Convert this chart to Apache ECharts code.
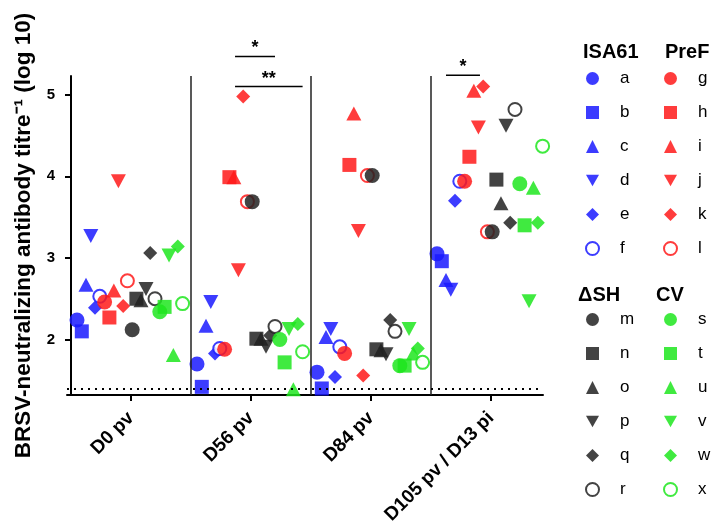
<!DOCTYPE html>
<html>
<head>
<meta charset="utf-8">
<script src="https://cdn.jsdelivr.net/npm/echarts@6/dist/echarts.min.js"></script>
<style>
html, body { margin: 0; padding: 0; background: #fff; }
#main { width: 713px; height: 527px; }
</style>
</head>
<body>
<div id="main"></div>
<script>
var categories = ['D0 pv', 'D56 pv', 'D84 pv', 'D105 pv / D13 pi'];
var animals = ['a','b','c','d','e','f','g','h','i','j','k','l','m','n','o','p','q','r','s','t','u','v','w','x'];
// horizontal place of each animal inside a time point column (0..1)
var jitter = [0.05, 0.09, 0.125, 0.165, 0.2, 0.24, 0.28, 0.32, 0.357, 0.395, 0.435, 0.47,
              0.51, 0.545, 0.583, 0.625, 0.66, 0.70, 0.74, 0.78, 0.853, 0.817, 0.89, 0.93];

// log10 titres per animal: D0, D56, D84, D105
var isa61 = [
  [2.24, 1.70, 1.60, 3.05],
  [2.10, 1.42, 1.40, 2.96],
  [2.67, 2.17, 2.03, 2.73],
  [3.27, 2.46, 2.13, 2.61],
  [2.39, 1.83, 1.54, 3.70],
  [2.53, 1.89, 1.91, 3.94]
];
var pref = [
  [2.46, 1.88, 1.83, 3.94],
  [2.27, 3.99, 4.14, 4.24],
  [2.60, 3.99, 4.77, 5.05],
  [3.94, 2.85, 3.33, 4.60],
  [2.41, 4.98, 1.56, 5.10],
  [2.72, 3.69, 4.01, 3.32]
];
var deltaSH = [
  [2.12, 3.69, 4.01, 3.32],
  [2.50, 2.01, 1.88, 3.96],
  [2.48, 2.01, 1.87, 3.67],
  [2.62, 1.91, 1.82, 4.62],
  [3.06, 2.05, 2.24, 3.43],
  [2.50, 2.16, 2.10, 4.82]
];
var cv = [
  [2.34, 2.00, 1.68, 3.91],
  [2.40, 1.72, 1.68, 3.40],
  [1.81, 1.39, 1.83, 3.86],
  [3.03, 2.13, 2.13, 2.47],
  [3.14, 2.19, 1.89, 3.43],
  [2.44, 1.85, 1.72, 4.37]
];
var yTicks = [2, 3, 4, 5];
var catTicks = [0.5, 1.5, 2.5, 3.5];
var detectionLimit = 1.4;
var sigBars = [
  { from: 1.367, to: 1.70, y: 5.47, text: '*' },
  { from: 1.367, to: 1.93, y: 5.10, text: '**' },
  { from: 3.125, to: 3.408, y: 5.24, text: '*' }
];

var FONT = 'Liberation Sans, Arial, sans-serif';
var groups = [
  { name: 'ISA61', color: '#1a1aff', values: isa61, left: 585, top: 70, hx: 583, hy: 52 },
  { name: 'PreF', color: '#ff1a1a', values: pref, left: 663, top: 70, hx: 665, hy: 52 },
  { name: '\u0394SH', color: '#222222', values: deltaSH, left: 585, top: 311, hx: 578, hy: 295 },
  { name: 'CV', color: '#1fe61f', values: cv, left: 663, top: 311, hx: 656, hy: 295 }
];
var downTri = 'path://M0,0L10,0L5,9Z';
var shapes = [
  { symbol: 'circle', size: 15 },
  { symbol: 'rect', size: 14 },
  { symbol: 'triangle', size: [15, 14] },
  { symbol: downTri, size: [15, 14] },
  { symbol: 'diamond', size: 14 },
  { symbol: 'emptyCircle', size: 13 }
];

var series = [];
var legends = [];
groups.forEach(function (g, gi) {
  var names = [];
  g.values.forEach(function (vals, si) {
    var idx = gi * 6 + si;
    var sh = shapes[si];
    names.push(animals[idx]);
    series.push({
      name: animals[idx],
      type: 'scatter',
      symbol: sh.symbol,
      symbolSize: sh.size,
      itemStyle: {
        color: g.color,
        opacity: 0.85,
        borderWidth: sh.symbol === 'emptyCircle' ? 2 : 0
      },
      emphasis: { disabled: true },
      data: vals.map(function (v, ci) { return [ci + jitter[idx], v]; })
    });
  });
  legends.push({
    orient: 'vertical',
    left: g.left,
    top: g.top,
    padding: 0,
    itemWidth: 13,
    itemHeight: 13,
    itemGap: 17,
    selectedMode: false,
    data: names,
    textStyle: { fontSize: 17, color: '#000', fontFamily: FONT, lineHeight: 13, padding: [0, 0, 0, 16] }
  });
});

// separators and detection limit
series.push({
  type: 'scatter',
  data: [],
  silent: true,
  markLine: {
    silent: true,
    symbol: 'none',
    label: { show: false },
    emphasis: { disabled: true },
    data: [
      { xAxis: 1, lineStyle: { color: '#222', width: 1.5, type: 'solid' } },
      { xAxis: 2, lineStyle: { color: '#222', width: 1.5, type: 'solid' } },
      { xAxis: 3, lineStyle: { color: '#222', width: 1.5, type: 'solid' } },
      { yAxis: detectionLimit, lineStyle: { color: '#000', width: 2, type: [2, 5] } }
    ]
  }
});

var chart = echarts.init(document.getElementById('main'));
chart.setOption({
  animation: false,
  textStyle: { fontFamily: FONT },
  grid: { left: 67, right: 170, top: 76, bottom: 132 },
  legend: legends,
  xAxis: {
    type: 'value',
    min: -0.0333,
    max: 3.9333,
    splitLine: { show: false },
    axisLine: { lineStyle: { color: '#000', width: 2 } },
    axisTick: { customValues: catTicks, length: 6, lineStyle: { color: '#000', width: 2 } },
    axisLabel: {
      customValues: catTicks,
      rotate: 45,
      margin: 20,
      fontSize: 19,
      fontWeight: 'bold',
      color: '#000',
      formatter: function (v) { return categories[Math.floor(v)]; }
    }
  },
  yAxis: {
    type: 'value',
    min: 1.32,
    max: 5.23,
    name: 'BRSV-neutralizing antibody titre\u207B\u00B9 (log 10)',
    nameLocation: 'middle',
    nameGap: 25,
    nameTextStyle: { fontSize: 22.5, fontWeight: 'bold', color: '#000' },
    splitLine: { show: false },
    axisLine: { show: true, lineStyle: { color: '#000', width: 2 } },
    axisTick: { show: true, customValues: yTicks, length: 6, lineStyle: { color: '#000', width: 2 } },
    axisLabel: { customValues: yTicks, margin: 12, fontSize: 15, fontWeight: 'bold', color: '#000' }
  },
  series: series
});

var graphics = groups.map(function (g) {
  return {
    type: 'text', x: g.hx, y: g.hy,
    style: { text: g.name, font: 'bold 20px ' + FONT, fill: '#000', verticalAlign: 'middle' }
  };
});
sigBars.forEach(function (b) {
  var p1 = chart.convertToPixel({ gridIndex: 0 }, [b.from, b.y]);
  var p2 = chart.convertToPixel({ gridIndex: 0 }, [b.to, b.y]);
  graphics.push({
    type: 'line',
    shape: { x1: p1[0], y1: p1[1], x2: p2[0], y2: p2[1] },
    style: { stroke: '#000', lineWidth: 1.5 }
  });
  graphics.push({
    type: 'text', x: (p1[0] + p2[0]) / 2, y: p1[1] - 8,
    style: { text: b.text, font: 'bold 18px ' + FONT, fill: '#000', align: 'center', verticalAlign: 'middle' }
  });
});
chart.setOption({ graphic: graphics });
</script>
</body>
</html>
